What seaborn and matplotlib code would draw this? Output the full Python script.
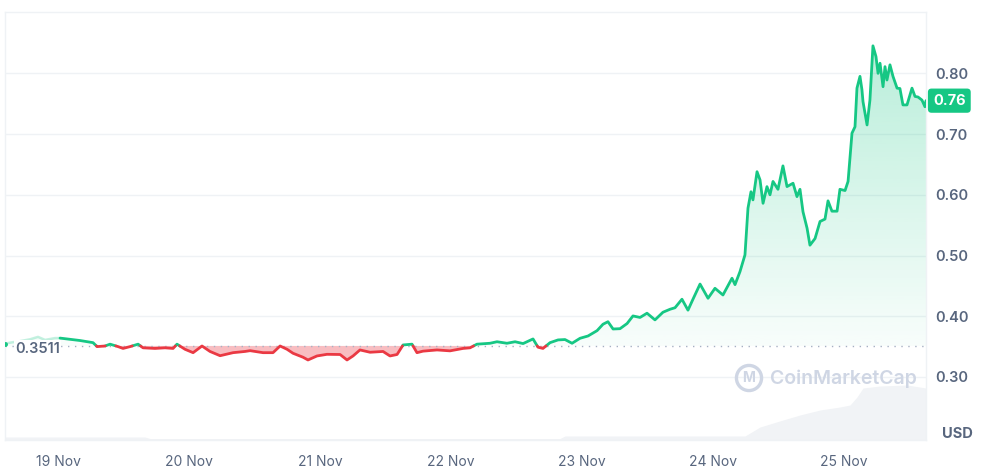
import numpy as np
import pandas as pd
import matplotlib
matplotlib.use('Agg')
import matplotlib.pyplot as plt
import matplotlib.dates as mdates
from matplotlib.path import Path
import seaborn as sns

# price series, time as day of November (19.0 = 19 Nov 00:00)
day = [18.595, 18.649, 18.710, 18.786, 18.847, 18.901, 18.977, 19.015, 19.092, 19.168,
       19.267, 19.298, 19.359, 19.397, 19.458, 19.496, 19.550, 19.611, 19.649, 19.740,
       19.817, 19.878, 19.908, 19.969, 20.031, 20.099, 20.160, 20.237, 20.336, 20.427,
       20.466, 20.565, 20.641, 20.695, 20.748, 20.794, 20.870, 20.908, 20.977, 21.053,
       21.153, 21.206, 21.252, 21.305, 21.382, 21.481, 21.534, 21.588, 21.634, 21.702,
       21.740, 21.786, 21.893, 21.992, 22.092, 22.145, 22.198, 22.298, 22.351, 22.427,
       22.489, 22.550, 22.626, 22.664, 22.702, 22.756, 22.817, 22.870, 22.924, 22.985,
       23.046, 23.115, 23.160, 23.198, 23.237, 23.290, 23.344, 23.389, 23.443, 23.496,
       23.557, 23.618, 23.672, 23.710, 23.763, 23.809, 23.847, 23.901, 23.962, 24.015,
       24.076, 24.145, 24.168, 24.206, 24.244, 24.267, 24.290, 24.305, 24.336, 24.359,
       24.382, 24.412, 24.435, 24.458, 24.496, 24.534, 24.565, 24.611, 24.641, 24.664,
       24.687, 24.718, 24.740, 24.779, 24.817, 24.855, 24.878, 24.908, 24.947, 24.969,
       25.008, 25.031, 25.061, 25.084, 25.099, 25.122, 25.137, 25.145, 25.176, 25.198,
       25.221, 25.244, 25.260, 25.275, 25.298, 25.313, 25.328, 25.351, 25.374, 25.405,
       25.427, 25.450, 25.481, 25.519, 25.542, 25.565, 25.595, 25.618, 25.626]
price = [0.355, 0.357, 0.359, 0.362, 0.366, 0.361, 0.364, 0.364, 0.362, 0.360,
         0.3565, 0.350, 0.351, 0.354, 0.350, 0.347, 0.350, 0.354, 0.348, 0.347,
         0.348, 0.347, 0.354, 0.3456, 0.340, 0.351, 0.342, 0.335, 0.340, 0.342,
         0.3433, 0.340, 0.340, 0.351, 0.3456, 0.339, 0.3325, 0.328, 0.3346, 0.3373,
         0.337, 0.328, 0.3346, 0.3445, 0.3407, 0.342, 0.3346, 0.337, 0.3527, 0.354,
         0.340, 0.3425, 0.3445, 0.343, 0.347, 0.348, 0.354, 0.3555, 0.358, 0.3555,
         0.358, 0.355, 0.3626, 0.349, 0.347, 0.3565, 0.361, 0.3616, 0.3555, 0.3637,
         0.3675, 0.3763, 0.3868, 0.391, 0.379, 0.3795, 0.388, 0.4005, 0.398, 0.405,
         0.394, 0.4066, 0.4115, 0.414, 0.428, 0.410, 0.428, 0.453, 0.4296, 0.446,
         0.435, 0.4626, 0.452, 0.4735, 0.501, 0.578, 0.605, 0.5916, 0.638, 0.6245,
         0.586, 0.6134, 0.600, 0.622, 0.609, 0.6476, 0.6135, 0.619, 0.597, 0.609,
         0.572, 0.545, 0.517, 0.528, 0.556, 0.560, 0.590, 0.573, 0.573, 0.609,
         0.607, 0.622, 0.7015, 0.712, 0.7756, 0.795, 0.773, 0.7535, 0.715, 0.756,
         0.8453, 0.8277, 0.800, 0.8166, 0.778, 0.811, 0.789, 0.814, 0.795, 0.7756,
         0.775, 0.748, 0.748, 0.7756, 0.762, 0.761, 0.756, 0.745, 0.755]

# volume (arbitrary units), drawn as the grey band at the bottom
vol_day = [18.595, 19.664, 19.702, 22.832, 22.870, 24.244, 24.359, 24.534, 24.664,
           24.817, 24.969, 25.046, 25.099, 25.145, 25.275, 25.481, 25.626]
volume = [150, 150, 75, 75, 200, 200, 650, 1000, 1250, 1500, 1650, 1750, 2150,
          2600, 2700, 2750, 2600]

base_price = 0.3511
last_label = '0.76'
yticks = [0.30, 0.40, 0.50, 0.60, 0.70, 0.80]
xtick_days = [19, 20, 21, 22, 23, 24, 25]

GREEN = '#16c784'
RED = '#ea3943'
GREY = '#58667e'
GRID = '#eff2f5'


def to_date(d):
    return pd.Timestamp('2024-11-01') + pd.to_timedelta(np.asarray(d) - 1, unit='D')


day = np.array(day)
price = np.array(price)
faint = day <= 19.015
solid = day >= 19.015

# split the solid part into up/down segments, with crossing points on the base line
rows = []
seg = 0
d_main, p_main = day[solid], price[solid]
prev = None
for i in range(len(d_main)):
    cur = 'up' if p_main[i] >= base_price else 'down'
    if prev is not None and cur != prev:
        f = (base_price - p_main[i - 1]) / (p_main[i] - p_main[i - 1])
        dc = d_main[i - 1] + f * (d_main[i] - d_main[i - 1])
        rows.append((dc, base_price, prev, seg))
        seg += 1
        rows.append((dc, base_price, cur, seg))
    rows.append((d_main[i], p_main[i], cur, seg))
    prev = cur
df = pd.DataFrame(rows, columns=['day', 'price', 'dir', 'seg'])
df['date'] = to_date(df['day'])

sns.set_theme(style='white')
plt.rcParams['font.family'] = ['Inter', 'DejaVu Sans']

fig = plt.figure(figsize=(9.9, 4.7), dpi=100)
ax = fig.add_axes([5 / 990, 1 - 440 / 470, 921 / 990, 428 / 470])

# volume band on a hidden twin axis
axv = ax.twinx()
axv.fill_between(to_date(vol_day), volume, 0, color='#f1f3f6', lw=0, zorder=0)
axv.set_ylim(0, 428 * 50)
axv.set_yticks([])
for s in axv.spines.values():
    s.set_visible(False)
ax.set_zorder(axv.get_zorder() + 1)
ax.patch.set_visible(False)

dates_all = to_date(day)

# green gradient fill above the base line
poly = ax.fill_between(dates_all, price, base_price, where=price >= base_price,
                       interpolate=True, facecolor='none', lw=0)
grad = np.zeros((200, 1, 4))
grad[:, 0, :3] = matplotlib.colors.to_rgb(GREEN)
grad[:, 0, 3] = np.linspace(0.03, 0.30, 200)
x0, x1 = mdates.date2num(dates_all[0]), mdates.date2num(dates_all[-1])
img = ax.imshow(grad, extent=[x0, x1, base_price, price.max()], origin='lower',
                aspect='auto', zorder=1)
img.set_clip_path(Path.make_compound_path(*poly.get_paths()), transform=ax.transData)

# red fill below base
ax.fill_between(dates_all[solid], price[solid], base_price,
                where=price[solid] < base_price, interpolate=True,
                color=RED, alpha=0.33, lw=0, zorder=1)

# baseline dotted
ax.axhline(base_price, color='#a6b0c3', lw=1, ls=(0, (1, 4)), zorder=2)

# faint leading segment
sns.lineplot(x=dates_all[faint], y=price[faint], ax=ax, color=GREEN, alpha=0.25, lw=1.8)
ax.plot(dates_all[:1], price[:1], 'o', color=GREEN, ms=2.5, zorder=3)

sns.lineplot(data=df, x='date', y='price', hue='dir', units='seg', estimator=None,
             palette={'up': GREEN, 'down': RED}, lw=2.0, legend=False, ax=ax, sort=False,
             zorder=3)

ax.set_xlim(to_date(18.595), to_date(25.626))
ax.set_ylim(0.1962, 0.901)
ax.set_xlabel('')
ax.set_ylabel('')

ax.yaxis.tick_right()
ax.set_yticks(yticks)
ax.set_yticklabels([f'{v:.2f}' for v in yticks])
ax.set_xticks(to_date(xtick_days))
ax.set_xticklabels([f'{d} Nov' for d in xtick_days])
ax.tick_params(axis='y', length=0, pad=7, labelsize=10.5, labelcolor=GREY)
ax.tick_params(axis='x', length=0, pad=11, labelsize=10, labelcolor=GREY)
for lab in ax.get_yticklabels():
    lab.set_fontweight('semibold')
ax.grid(axis='y', color=GRID, lw=1)
ax.grid(axis='x', visible=False)
for s in ax.spines.values():
    s.set_color(GRID)
    s.set_linewidth(1)

# current price tag
ax.annotate(last_label, xy=(1, price[-1]), xycoords=('axes fraction', 'data'),
            xytext=(7, 0), textcoords='offset pixels', ha='left', va='center',
            color='white', fontsize=10.5, fontweight='bold',
            bbox=dict(boxstyle='round,pad=0.35,rounding_size=0.25', fc=GREEN, ec='none'))

# base price label
ax.annotate(f'{base_price:.4f}', xy=(0, base_price), xycoords=('axes fraction', 'data'),
            xytext=(10, -3), textcoords='offset pixels', ha='left', va='center',
            color=GREY, fontsize=10.5, fontweight='semibold',
            bbox=dict(boxstyle='square,pad=0.1', fc='white', ec='none'))

fig.text(957 / 990, 1 - 434 / 470, 'USD', ha='center', va='center', color=GREY,
         fontsize=10.5, fontweight='bold')

# watermark
fig.text(749 / 990, 1 - 378 / 470, 'M', ha='center', va='center', color='#cfd6e4',
         fontsize=10, fontweight='bold',
         bbox=dict(boxstyle='circle,pad=0.4', fc='none', ec='#cfd6e4', lw=2.4))
fig.text(770 / 990, 1 - 379 / 470, 'CoinMarketCap', ha='left', va='center',
         color='#cfd6e4', fontsize=14, fontweight='semibold')

fig.savefig('out.png', dpi=100)
